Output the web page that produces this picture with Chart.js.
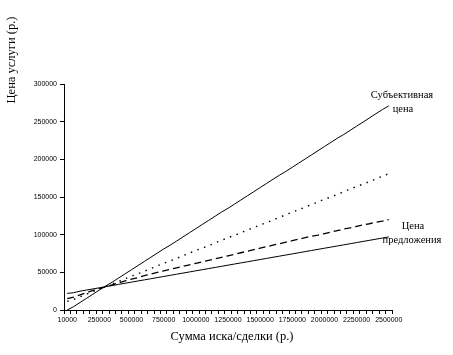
<!DOCTYPE html>
<html><head><meta charset="utf-8">
<script src="https://cdn.jsdelivr.net/npm/chart.js@4"></script>
<style>html,body{margin:0;padding:0;background:#fff}#wrap{width:453px;height:355px}</style>
</head><body><div id="wrap"><canvas id="c" width="453" height="355"></canvas></div>
<script>
const categories = [10000, 50000, 100000, 150000, 200000, 250000, 300000, 350000, 400000, 450000, 500000,
  550000, 600000, 650000, 700000, 750000, 800000, 850000, 900000, 950000, 1000000,
  1050000, 1100000, 1150000, 1200000, 1250000, 1300000, 1350000, 1400000, 1450000, 1500000,
  1550000, 1600000, 1650000, 1700000, 1750000, 1800000, 1850000, 1900000, 1950000, 2000000,
  2050000, 2100000, 2150000, 2200000, 2250000, 2300000, 2350000, 2400000, 2450000, 2500000];
const shownTickLabels = ["10000", "250000", "500000", "750000", "1000000", "1250000", "1500000", "1750000", "2000000", "2250000", "2500000"];
const subjectivePrice = [0, 4500, 10000, 15500, 21000, 26500, 32000, 37000, 42500, 48000, 53500,
  59000, 64500, 70000, 75500, 81000, 86000, 91500, 97000, 102500, 108000,
  113500, 119000, 124500, 130000, 135000, 140500, 146000, 151500, 157000, 162500,
  168000, 173500, 179000, 184000, 189500, 195000, 200500, 206000, 211500, 217000,
  222500, 228000, 233000, 238500, 244000, 249500, 255000, 260500, 266000, 271000];
const dottedSeries = [11500, 14000, 17500, 21000, 24500, 28000, 31500, 34500, 38000, 41500, 45000,
  48000, 51500, 55000, 58500, 62000, 65000, 68500, 72000, 75500, 79000,
  82000, 85500, 89000, 92500, 96000, 99000, 102500, 106000, 109500, 113000,
  116000, 119500, 123000, 126500, 130000, 133000, 136500, 140000, 143500, 147000,
  150000, 153500, 157000, 160500, 164000, 167000, 170500, 174000, 177500, 181000];
const dashedSeries = [15000, 17000, 20000, 23000, 26000, 28500, 31000, 33500, 36000, 38500, 41000,
  43000, 45500, 47500, 50000, 52000, 54000, 56000, 58000, 60000, 62000,
  64000, 66000, 68000, 70000, 72000, 74000, 76000, 78000, 80000, 82000,
  84000, 86000, 88000, 90000, 92000, 94000, 96000, 98000, 99500, 101500,
  103500, 105500, 107500, 109000, 111000, 113000, 114500, 116500, 118000, 120000];
const offerPrice = [22000, 23000, 25000, 26500, 28000, 29500, 31000, 32500, 34000, 35500, 37000,
  38500, 40000, 41500, 43000, 44500, 46000, 47500, 49000, 50500, 52000,
  53500, 55000, 56500, 58000, 59500, 61000, 62500, 64000, 65500, 67000,
  68500, 70000, 71500, 73000, 74500, 76000, 77500, 79000, 80500, 82000,
  83500, 85000, 86500, 88000, 89500, 91000, 92500, 94000, 95500, 97000];
const yTitle = "Цена услуги (р.)";
const xTitle = "Сумма иска/сделки (р.)";
const annotations = [
  {text: "Субъективная", x: 402, y: 95},
  {text: "цена", x: 403, y: 109},
  {text: "Цена", x: 413, y: 226},
  {text: "предложения", x: 412, y: 240}
];

const textPlugin = {
  id: 'texts',
  afterDraw(chart) {
    const ctx = chart.ctx;
    ctx.save();
    ctx.fillStyle = '#000';
    ctx.font = '12.5px "Liberation Serif"';
    ctx.textAlign = 'center';
    ctx.textBaseline = 'middle';
    ctx.fillText(xTitle, 232, 337);
    ctx.save();
    ctx.translate(12, 60);
    ctx.rotate(-Math.PI / 2);
    ctx.fillText(yTitle, 0, 0);
    ctx.restore();
    ctx.font = '10.5px "Liberation Serif"';
    annotations.forEach(a => ctx.fillText(a.text, a.x, a.y));
    ctx.restore();
  }
};

new Chart(document.getElementById('c'), {
  type: 'line',
  data: {
    labels: categories.map(String),
    datasets: [
      {label: 'Субъективная цена', data: subjectivePrice, borderColor: '#000', borderWidth: 1, pointRadius: 0, tension: 0},
      {label: 'dotted', data: dottedSeries, borderColor: '#000', borderWidth: 1.4, borderDash: [1.5, 5.5], pointRadius: 0, tension: 0},
      {label: 'dashed', data: dashedSeries, borderColor: '#000', borderWidth: 1.3, borderDash: [7, 4], pointRadius: 0, tension: 0},
      {label: 'Цена предложения', data: offerPrice, borderColor: '#000', borderWidth: 1, pointRadius: 0, tension: 0}
    ]
  },
  options: {
    responsive: false,
    animation: false,
    events: [],
    layout: {padding: {left: 0, right: 61, top: 84, bottom: 0}},
    plugins: {legend: {display: false}, tooltip: {enabled: false}},
    scales: {
      x: {
        type: 'category',
        offset: true,
        grid: {offset: true, drawOnChartArea: false, drawTicks: true, tickLength: 4, color: '#000', tickColor: '#000'},
        border: {color: '#000', width: 1},
        ticks: {
          autoSkip: false, maxRotation: 0, minRotation: 0, padding: 2,
          color: '#000', font: {family: '"Liberation Sans"', size: 7},
          callback: function(v, i) { return i % 5 === 0 ? shownTickLabels[i / 5] : ''; }
        },
        afterFit(scale) { scale.height = 45; }
      },
      y: {
        min: 0, max: 300000,
        grid: {drawOnChartArea: false, drawTicks: true, tickLength: 4, color: '#000', tickColor: '#000'},
        border: {color: '#000', width: 1},
        ticks: {stepSize: 50000, padding: 3, color: '#000', font: {family: '"Liberation Sans"', size: 7},
          callback: function(v) { return String(v); }},
        afterFit(scale) { scale.width = 64; }
      }
    }
  },
  plugins: [textPlugin]
});
</script>
</body></html>
